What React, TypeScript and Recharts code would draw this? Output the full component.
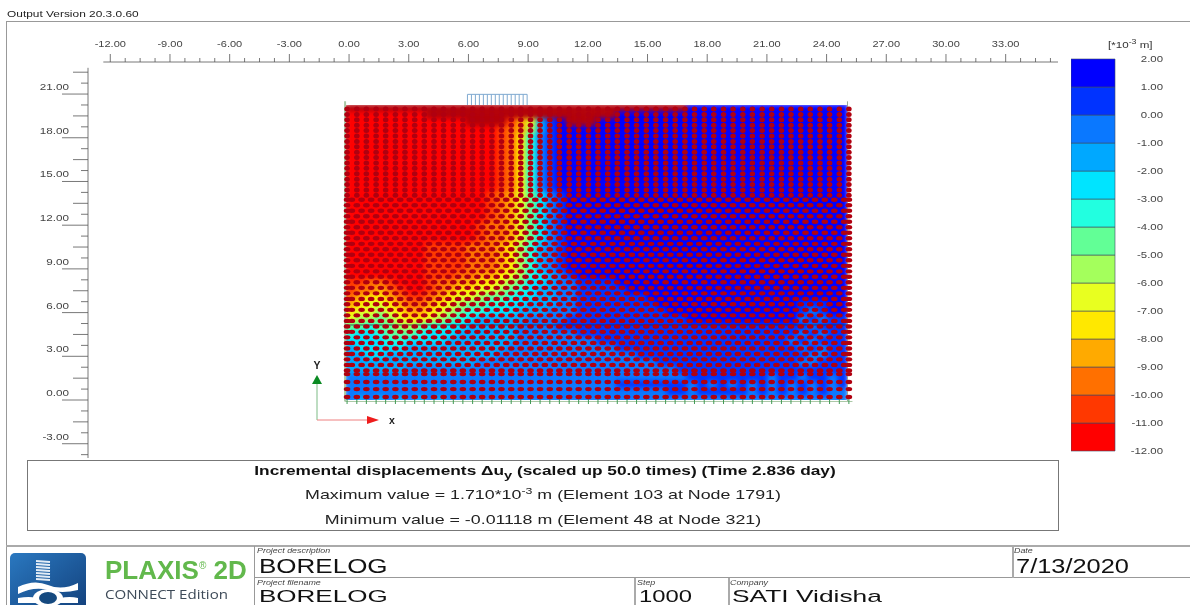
import { Bar, BarChart, ReferenceLine, Scatter, ScatterChart, XAxis, YAxis } from 'recharts';

// incremental displacement bands, top of the legend first (unit 10^-3 m)
const legendTicks = [2, 1, 0, -1, -2, -3, -4, -5, -6, -7, -8, -9, -10, -11, -12];
const bandCodes = ['a', 'b', 'c', 'd', 'e', 'f', 'g', 'h', 'i', 'j', 'k', 'l', 'm', 'n'];
const bandColors: Record<string, string> = {
  a: '#0000ff', b: '#0033ff', c: '#0a78ff', d: '#00a8ff', e: '#00e4ff', f: '#22ffe0', g: '#62ff96',
  h: '#a4ff5c', i: '#e8ff20', j: '#ffe800', k: '#ffaa00', l: '#ff7000', m: '#ff3800', n: '#ff0000',
  z: '#b30008',
};

const xTicks = [
  -12, -11.25, -10.5, -9.75, -9, -8.25, -7.5, -6.75, -6, -5.25, -4.5, -3.75, -3, -2.25, -1.5, -0.75, 0, 0.75, 1.5, 2.25,
  3, 3.75, 4.5, 5.25, 6, 6.75, 7.5, 8.25, 9, 9.75, 10.5, 11.25, 12, 12.75, 13.5, 14.25, 15, 15.75, 16.5, 17.25,
  18, 18.75, 19.5, 20.25, 21, 21.75, 22.5, 23.25, 24, 24.75, 25.5, 26.25, 27, 27.75, 28.5, 29.25, 30, 30.75, 31.5, 32.25,
  33, 33.75, 34.5, 35.25,
];
const yTicks = [
  -3.75, -3, -2.25, -1.5, -0.75, 0, 0.75, 1.5, 2.25, 3, 3.75, 4.5, 5.25, 6, 6.75, 7.5, 8.25, 9, 9.75, 10.5,
  11.25, 12, 12.75, 13.5, 14.25, 15, 15.75, 16.5, 17.25, 18, 18.75, 19.5, 20.25, 21, 21.75, 22.5,
];

// contour cells: one letter per cell, grouped by ten, top row first
const contourXs = [
  0.05, 0.56, 1.06, 1.57, 2.07, 2.58, 3.09, 3.59, 4.1, 4.6, 5.11, 5.61, 6.12, 6.62, 7.13, 7.64, 8.14, 8.65, 9.15, 9.66,
  10.16, 10.67, 11.17, 11.68, 12.19, 12.69, 13.2, 13.7, 14.21, 14.71, 15.22, 15.72, 16.23, 16.74, 17.24, 17.75, 18.25,
  18.76, 19.26, 19.77, 20.27, 20.78, 21.29, 21.79, 22.3, 22.8, 23.31, 23.81, 24.32, 24.82,
];
const contourYs = [
  20.05, 19.55, 19.05, 18.55, 18.05, 17.55, 17.05, 16.55, 16.05, 15.55, 15.05, 14.55, 14.05, 13.55, 13.05, 12.55, 12.05,
  11.55, 11.05, 10.55, 10.05, 9.55, 9.05, 8.55, 8.05, 7.55, 7.05, 6.55, 6.05, 5.55, 5.05, 4.55, 4.05, 3.55, 3.05, 2.55,
  2.05, 1.55, 1.05, 0.55, 0.05,
];
const contourRows = [
  'zzzzzzzzzz zzzzzzzzzz zzzzzzzzzz zzzzaaaaaa aaaaaaaaaa',
  'nnnnnnnnzz zzzzzzzzzz zzzzzzzaaa aaaaaaaaaa aaaaaaaaaa',
  'nnnnnnnnnn nnzzzzmkid bazzzaaaaa aaaaaaaaaa aaaaaaaaaa',
  'nnnnnnnnnn nnnnnmlkhd baaaaaaaaa aaaaaaaaaa aaaaaaaaaa',
  'nnnnnnnnnn nnnnnmljfc baaaaaaaaa aaaaaaaaaa aaaaaaaaaa',
  'nnnnnnnnnn nnnnnmljfc baaaaaaaaa aaaaaaaaaa aaaaaaaaaa',
  'nnnnnnnnnn nnnnnmljfc baaaaaaaaa aaaaaaaaaa aaaaaaaaaa',
  'nnnnnnnnnn nnnnnmljfc baaaaaaaaa aaaaaaaaaa aaaaaaaaaa',
  'nnnnnnnnnn nnnnnmljfc baaaaaaaaa aaaaaaaaaa aaaaaaaaaa',
  'nnnnnnnnnn nnnnnmljfc baaaaaaaaa aaaaaaaaaa aaaaaaaaaa',
  'nnnnnnnnnn nnnnnmljfc baaaaaaaaa aaaaaaaaaa aaaaaaaaaa',
  'nnnnnnnnnn nnnnnmljfc baaaaaaaaa aaaaaaaaaa aaaaaaaaaa',
  'nnnnnnnnnn nnnnmlkige cbaaaaaaaa aaaaaaaaaa aaaaaaaaaa',
  'nnnnnnnnnn nnnnmlkige cbaaaaaaaa aaaaaaaaaa aaaaaaaaaa',
  'nnnnnnnnnn nnnnmlkige cbaaaaaaaa aaaaaaaaaa aaaaaaaaaa',
  'nnnnnnnnnn nnnnmlkige cbaaaaaaaa aaaaaaaaaa aaaaaaaaaa',
  'nnnnnnnnnn nnnmllkige cbaaaaaaaa aaaaaaaaaa aaaaaaaaaa',
  'nnnnnnnnnn nnnmllkige cbaaaaaaaa aaaaaaaaaa aaaaaaaaaa',
  'nnnnnnnnnn nnnmllkige cbaaaaaaaa aaaaaaaaaa aaaaaaaaaa',
  'nnnnnnnnmm mmlllkjhfd cbaaaaaaaa aaaaaaaaaa aaaaaaaaaa',
  'nnnnnnnnmm mmlllkjhfd cbaaaaaaaa aaaaaaaaaa aaaaaaaaaa',
  'nnnnnnnnmm mmlllkjhfd cbaaaaaaaa aaaaaaaaaa aaaaaaaaaa',
  'nnnnnnnnmm mmlllkjhfd cbaaaaaaaa aaaaaaaaaa aaaaaaaaaa',
  'nnnnnnnnmm mllkkjihfe dcbaaaaaaa aaaaaaaaaa aaaaaaaaaa',
  'mmllmnnnml lkkjjihgee dccbbbbaaa aaaaaaaaaa aaaaaaaaaa',
  'mllklmnnml kjjiihgfed dccbbbbbaa aaaaaaaaaa aaaaaaaaaa',
  'lkjjklmmlk jiihggfeed dccbbbbbbb aaaaaaaaaa aaaaaaaaaa',
  'kjiijkllkj ihggffeedd dccbbbbbbb baaaaaaaaa aaaaabbbaa',
  'jiihijkkji hgffeeeddd cccbbbbbbb bbaaaaaaaa aaaaabcbaa',
  'ihhghijjih gfedddddcc ccbbbbbbbb bbbbaaaaaa aaaaacbcbb',
  'ggfgghhgff eedddddccc cbbbbbbbbb bbbbbbbbbb bbbbbbcbbb',
  'feefgggfee eddddddccc cccbbbbbbb bbbbbbbbbb bbbbbcbcbb',
  'eeeeffeeee dddddddccc cccccbbbbb bbbbbbbbbb bbbbcbcbbb',
  'deeeeedddd ddddddcccc cccccccbbb bbbbbbbbbb bbbbbcbcbb',
  'ddeedddddd dddddccccc cccccccccb bbbbbbbbbb bbbbbbccbb',
  'dddddddddd dddccccccc cccccccccc cbbbbbbbbb bbbbbccbbb',
  'ddddddcccc cccccccccc cccccccccc cccbbbbbbb bbbbbbbbbb',
  'cccccccccc cccccccccc cccccccccc ccccbbbbbb bbcbbcbbcb',
  'cccccccccc cccccccccc cccccccbbb bbbbcbcbcb cbcbcbcbcb',
  'cccccccccc cccccccccc cccccccccc ccbbcbbbbb cbcbcbcbcc',
  'cdcdcdcdcd cccccccccc cccccccccc cccccccccc cccccccccc',
];

// stress point columns and rows, in metres
const meshXs = [
  -0.1, 0.39, 0.87, 1.36, 1.84, 2.33, 2.81, 3.3, 3.78, 4.27, 4.75, 5.24, 5.72, 6.21, 6.69, 7.18, 7.66, 8.15, 8.63, 9.12,
  9.6, 10.09, 10.57, 11.06, 11.54, 12.03, 12.51, 13, 13.48, 13.97, 14.45, 14.94, 15.42, 15.91, 16.39, 16.88, 17.36,
  17.85, 18.33, 18.82, 19.3, 19.79, 20.27, 20.76, 21.24, 21.73, 22.21, 22.7, 23.18, 23.67, 24.15, 24.64, 25.12,
];
const meshXsOffset = [
  -0.1, 0.14, 0.63, 1.11, 1.6, 2.08, 2.57, 3.05, 3.54, 4.02, 4.51, 4.99, 5.48, 5.96, 6.45, 6.93, 7.42, 7.9, 8.39, 8.87,
  9.36, 9.84, 10.33, 10.81, 11.3, 11.78, 12.27, 12.75, 13.24, 13.72, 14.21, 14.69, 15.18, 15.66, 16.15, 16.63, 17.12,
  17.6, 18.09, 18.57, 19.06, 19.54, 20.03, 20.51, 21, 21.48, 21.97, 22.45, 22.94, 23.42, 23.91, 24.39, 24.88, 25.12,
];
const upperRowYs = [19.97, 19.6, 19.23, 18.86, 18.49, 18.12, 17.75, 17.38, 17.01, 16.64, 16.27, 15.9, 15.53, 15.16, 14.79, 14.42, 14.05];
const middleRowYs = [
  13.75, 13.37, 12.99, 12.61, 12.24, 11.86, 11.48, 11.1, 10.72, 10.35, 9.97, 9.59, 9.21, 8.83, 8.46, 8.08, 7.7, 7.32,
  6.94, 6.57, 6.19, 5.81, 5.43, 5.05, 4.68, 4.3, 3.92, 3.54, 3.16, 2.79, 2.41, 2.03,
];
const bottomRowYs = [1.78, 1.24, 0.75, 0.21];
const loadXs = [5.95, 6.15, 6.35, 6.55, 6.75, 6.95, 7.15, 7.35, 7.55, 7.75, 7.95, 8.15, 8.35, 8.55, 8.75, 8.95];

const contourData = contourRows.flatMap((row, r) =>
  row.replace(/ /g, '').split('').map((code, c) => ({ x: contourXs[c], y: contourYs[r], code })),
);
const upperDots = upperRowYs.flatMap((y) => meshXs.map((x) => ({ x, y })));
const middleDots = middleRowYs.flatMap((y, r) => (r % 2 ? meshXs : meshXsOffset).map((x) => ({ x, y })));
const bottomDots = bottomRowYs.flatMap((y) => meshXs.map((x) => ({ x, y })));
const fixities = meshXs.map((x) => ({ x, y: 0 }));
const legendRow = [{ name: 'band', ...Object.fromEntries(bandCodes.map((code) => [code, 1])) }];
const logoStripes = [8, 11, 14, 17, 20, 23, 26];

const X_DOMAIN = [-13.12, 35.63];
const Y_DOMAIN = [-3.98, 23.2];
const STRETCH = 1.27;
const SANS = '"Liberation Sans", Arial, sans-serif';

const Cell = ({ cx, cy, payload }: any) => (
  <rect x={cx - 5.3} y={cy - 3.9} width={10.6} height={7.8} fill={bandColors[payload.code]} />
);
const SmallDot = ({ cx, cy }: any) => <ellipse cx={cx} cy={cy} rx={2.8} ry={2.5} fill="#b00010" />;
const BigDot = ({ cx, cy }: any) => <ellipse cx={cx} cy={cy} rx={3.3} ry={2.2} fill="#b00010" />;
const Fixity = ({ cx, cy }: any) => <line x1={cx} x2={cx} y1={cy - 2} y2={cy + 4} stroke="#3f9a55" strokeWidth={1} />;

const XTick = ({ x, y, payload }: any) => {
  const v = payload.value;
  const major = v % 3 === 0;
  return (
    <g>
      <line x1={x} x2={x} y1={y} y2={y - (major ? 8 : 4)} stroke="#555" strokeWidth={0.8} />
      {major && v <= 33 && (
        <text transform={`translate(${x},47) scale(1.2,1)`} textAnchor="middle" fontSize={9.2} fontFamily={SANS} fill="#444">
          {v.toFixed(2)}
        </text>
      )}
    </g>
  );
};

const YTick = ({ x, y, payload }: any) => {
  const v = payload.value;
  const major = v % 3 === 0;
  const half = v % 1.5 === 0;
  return (
    <g>
      <line x1={major ? 62 : half ? 73 : 81} x2={88} y1={y} y2={y} stroke="#555" strokeWidth={0.8} />
      {major && (
        <text transform={`translate(69,${y - 4}) scale(${STRETCH},1)`} textAnchor="end" fontSize={9.2} fontFamily={SANS} fill="#444">
          {v.toFixed(2)}
        </text>
      )}
    </g>
  );
};

const LegendTick = ({ y, payload }: any) => (
  <text transform={`translate(92,${y + 2.5}) scale(${STRETCH},1)`} textAnchor="end" fontSize={9} fontFamily={SANS} fill="#444">
    {legendTicks[14 - payload.value].toFixed(2)}
  </text>
);

const Txt = ({ x, y, size, children, bold, italic, color = '#222', center, stretch = STRETCH, font = SANS }: any) => (
  <div
    style={{
      position: 'absolute', left: x, top: y, fontSize: size, lineHeight: 1, whiteSpace: 'nowrap', color,
      fontFamily: font, fontWeight: bold ? 700 : 400, fontStyle: italic ? 'italic' : 'normal',
      transform: `${center ? 'translateX(-50%) ' : ''}scaleX(${stretch})`, transformOrigin: center ? 'center' : 'left',
    }}
  >
    {children}
  </div>
);

const Box = ({ x, y, w, h, color = '#999' }: any) => (
  <div style={{ position: 'absolute', left: x, top: y, width: w, height: h, border: `1px solid ${color}`, boxSizing: 'border-box' }} />
);

const App = () => (
  <div style={{ position: 'absolute', left: 0, top: 0, width: 1190, height: 605, overflow: 'hidden', background: '#fff', filter: 'blur(0.4px)' }}>
    <Txt x={7} y={9} size={9.4}>Output Version 20.3.0.60</Txt>
    <Box x={6} y={21} w={1200} h={620} />

    {/* smooth shaded contours, kept inside the model outline */}
    <div style={{ position: 'absolute', left: 0, top: 0, width: 1190, height: 605, filter: 'blur(2.5px)', clipPath: 'inset(105px 342px 205px 345px)' }}>
      <ScatterChart width={1190} height={605} margin={{ top: 62, right: 132, bottom: 147, left: 88 }}>
        <XAxis hide type="number" dataKey="x" domain={X_DOMAIN} allowDataOverflow />
        <YAxis hide type="number" dataKey="y" domain={Y_DOMAIN} allowDataOverflow />
        <Scatter data={contourData} shape={<Cell />} isAnimationActive={false} />
      </ScatterChart>
    </div>

    <div style={{ position: 'absolute', left: 0, top: 0 }}>
      <ScatterChart width={1190} height={605} margin={{ top: 0, right: 132, bottom: 147, left: 0 }}>
        <XAxis type="number" dataKey="x" orientation="top" height={62} domain={X_DOMAIN} ticks={xTicks} interval={0}
          axisLine={false} tickLine={false} tickSize={0} tickMargin={0} tick={<XTick />} allowDataOverflow />
        <YAxis type="number" dataKey="y" width={88} domain={Y_DOMAIN} ticks={yTicks} interval={0}
          axisLine={false} tickLine={false} tickSize={0} tickMargin={0} tick={<YTick />} allowDataOverflow />
        <Scatter data={fixities} shape={<Fixity />} isAnimationActive={false} />
        <Scatter data={upperDots} shape={<SmallDot />} isAnimationActive={false} />
        <Scatter data={middleDots} shape={<BigDot />} isAnimationActive={false} />
        <Scatter data={bottomDots} shape={<BigDot />} isAnimationActive={false} />
        <ReferenceLine segment={[{ x: -12.35, y: 23.2 }, { x: 35.63, y: 23.2 }]} stroke="#555" strokeWidth={0.8} />
        <ReferenceLine segment={[{ x: -13.12, y: -3.98 }, { x: -13.12, y: 22.8 }]} stroke="#555" strokeWidth={0.8} />
        <ReferenceLine segment={[{ x: -0.2, y: -0.1 }, { x: -0.2, y: 20.5 }]} stroke="#a9c7a5" strokeWidth={2} />
        <ReferenceLine segment={[{ x: 25.05, y: -0.1 }, { x: 25.05, y: 20.5 }]} stroke="#9aa89a" strokeWidth={1} />
        <ReferenceLine segment={[{ x: -0.2, y: -0.1 }, { x: 25.3, y: -0.1 }]} stroke="#a9c7a5" strokeWidth={1} />
        <ReferenceLine segment={[{ x: -0.2, y: 5.15 }, { x: 25.1, y: 5.15 }]} stroke="#1c2a50" strokeWidth={1} strokeOpacity={0.75} />
        <ReferenceLine segment={[{ x: 5.95, y: 20.98 }, { x: 8.95, y: 20.98 }]} stroke="#7fa9d0" strokeWidth={1} />
        {loadXs.map((x) => (
          <ReferenceLine key={x} segment={[{ x, y: 20.25 }, { x, y: 20.98 }]} stroke="#7fa9d0" strokeWidth={1} />
        ))}
      </ScatterChart>
    </div>

    {/* model axes */}
    <svg width={1190} height={605} style={{ position: 'absolute', left: 0, top: 0 }}>
      <line x1={317} x2={317} y1={420} y2={383} stroke="#7dbb85" strokeWidth={1} />
      <polygon points="317,375 312,384 322,384" fill="#0a8a22" />
      <line x1={317} x2={370} y1={420} y2={420} stroke="#ee8080" strokeWidth={1} />
      <polygon points="379,420 367,416 367,424" fill="#ee1c1c" />
      <text x={317} y={369} fontSize={10.5} fontWeight={700} fontFamily={SANS} textAnchor="middle" fill="#222">Y</text>
      <text x={392} y={424} fontSize={10.5} fontWeight={700} fontFamily={SANS} textAnchor="middle" fill="#222">x</text>
    </svg>

    {/* colour legend */}
    <div style={{ position: 'absolute', left: 1071, top: 49 }}>
      <BarChart width={119} height={412} data={legendRow} margin={{ top: 10, right: 0, bottom: 10, left: 0 }} barCategoryGap={0}>
        <XAxis hide dataKey="name" />
        <YAxis orientation="right" width={75} domain={[0, 14]} ticks={[0, 1, 2, 3, 4, 5, 6, 7, 8, 9, 10, 11, 12, 13, 14]} interval={0}
          axisLine={false} tickLine={false} tickSize={0} tickMargin={0} tick={<LegendTick />} />
        {[...bandCodes].reverse().map((code) => (
          <Bar key={code} dataKey={code} stackId="bands" fill={bandColors[code]} stroke="#3c4a66" strokeWidth={0.6} isAnimationActive={false} />
        ))}
      </BarChart>
    </div>
    <Txt x={1108} y={41} size={8.6} color="#333" stretch={1.35}>[*10<sup style={{ fontSize: 6.5, lineHeight: 0 }}>-3</sup> m]</Txt>

    {/* result summary */}
    <Box x={27} y={460} w={1032} h={71} color="#777" />
    <Txt x={545} y={464} size={13} bold center color="#111" stretch={1.33}>
      Incremental displacements Δu<sub style={{ fontSize: 11, lineHeight: 0 }}>y</sub> (scaled up 50.0 times) (Time 2.836 day)
    </Txt>
    <Txt x={543} y={488} size={13} center color="#222" stretch={1.37}>
      Maximum value = 1.710*10<sup style={{ fontSize: 9, lineHeight: 0 }}>-3</sup> m (Element 103 at Node 1791)
    </Txt>
    <Txt x={543} y={513} size={13} center color="#222" stretch={1.37}>Minimum value = -0.01118 m (Element 48 at Node 321)</Txt>

    {/* title block */}
    <div style={{ position: 'absolute', left: 6, top: 545, width: 1184, height: 2, background: '#aaa' }} />
    <div style={{ position: 'absolute', left: 254, top: 577, width: 936, height: 1, background: '#999' }} />
    <div style={{ position: 'absolute', left: 254, top: 546, width: 1, height: 60, background: '#999' }} />
    <div style={{ position: 'absolute', left: 1012, top: 546, width: 2, height: 32, background: '#aaa' }} />
    <div style={{ position: 'absolute', left: 634, top: 578, width: 2, height: 28, background: '#aaa' }} />
    <div style={{ position: 'absolute', left: 728, top: 578, width: 2, height: 28, background: '#aaa' }} />
    <svg width={78} height={54} style={{ position: 'absolute', left: 10, top: 553 }}>
      <defs>
        <linearGradient id="logoFill" x1="0" y1="0" x2="1" y2="1">
          <stop offset="0" stopColor="#2a78c0" />
          <stop offset="1" stopColor="#123f7a" />
        </linearGradient>
      </defs>
      <rect width={76} height={60} rx={5} fill="url(#logoFill)" />
      {logoStripes.map((y) => (
        <line key={y} x1={26} x2={40} y1={y} y2={y + 1} stroke="#e4edf6" strokeWidth={2} />
      ))}
      <path d="M8 34 Q24 26 38 32 T68 30 L68 37 Q52 41 38 37 T8 41 Z" fill="#fff" />
      <path d="M8 45 Q20 43 26 45 L50 45 Q60 43 68 45 L68 50 L8 50 Z" fill="#fff" />
      <ellipse cx={38} cy={45} rx={15} ry={9} fill="#fff" />
      <ellipse cx={38} cy={45} rx={9} ry={6} fill="#15497f" />
    </svg>
    <Txt x={105} y={557} size={26} bold color="#62b84c" stretch={1}>PLAXIS<sup style={{ fontSize: 10, lineHeight: 0, fontWeight: 400 }}>®</sup> 2D</Txt>
    <Txt x={105} y={588} size={13} color="#3d4a58" stretch={1.16} font='"Open Sans", sans-serif'>CONNECT Edition</Txt>
    <Txt x={257} y={547} size={7} italic color="#444">Project description</Txt>
    <Txt x={259} y={556} size={20} color="#111" stretch={1.3}>BORELOG</Txt>
    <Txt x={257} y={579} size={7} italic color="#444">Project filename</Txt>
    <Txt x={259} y={588} size={17} color="#111" stretch={1.53}>BORELOG</Txt>
    <Txt x={637} y={579} size={7} italic color="#444">Step</Txt>
    <Txt x={639} y={588} size={17} color="#111" stretch={1.4}>1000</Txt>
    <Txt x={730} y={579} size={7} italic color="#444">Company</Txt>
    <Txt x={732} y={588} size={17} color="#111" stretch={1.55}>SATI Vidisha</Txt>
    <Txt x={1014} y={547} size={7} italic color="#444">Date</Txt>
    <Txt x={1016} y={556} size={20} color="#111">7/13/2020</Txt>
  </div>
);

export default App;
